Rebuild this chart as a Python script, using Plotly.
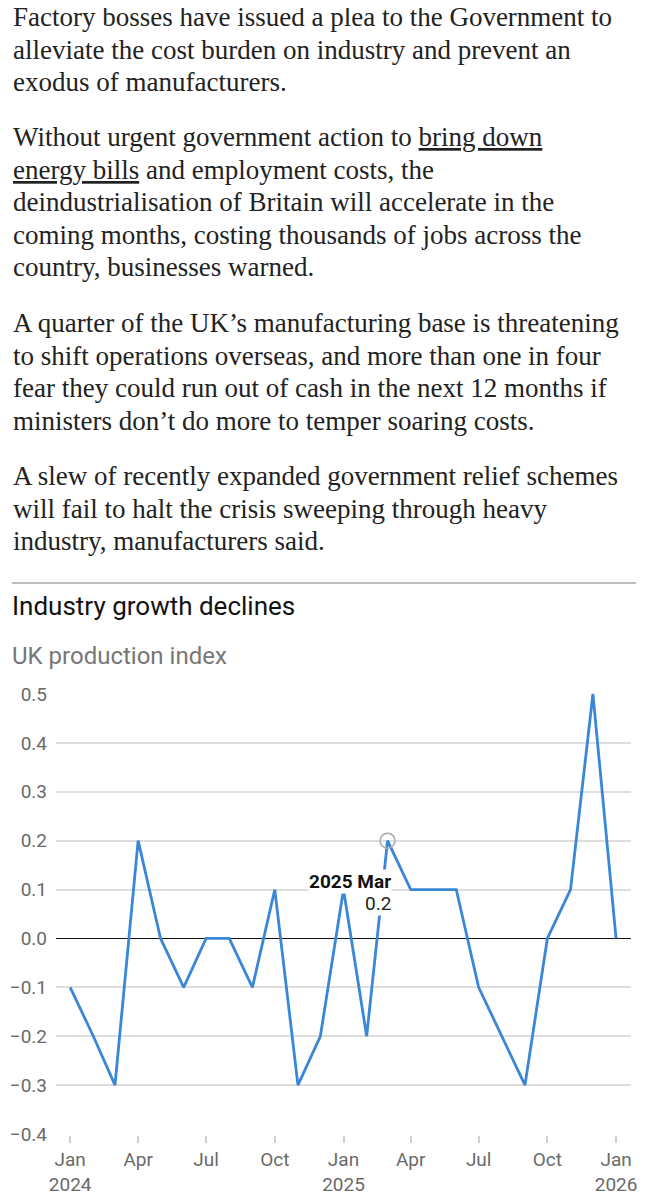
import plotly.graph_objects as go

# --- data ---
months = [
    "2024-01-01", "2024-02-01", "2024-03-01", "2024-04-01", "2024-05-01", "2024-06-01",
    "2024-07-01", "2024-08-01", "2024-09-01", "2024-10-01", "2024-11-01", "2024-12-01",
    "2025-01-01", "2025-02-01", "2025-03-01", "2025-04-01", "2025-05-01", "2025-06-01",
    "2025-07-01", "2025-08-01", "2025-09-01", "2025-10-01", "2025-11-01", "2025-12-01",
    "2026-01-01",
]
production_index = [
    -0.1, -0.2, -0.3, 0.2, 0.0, -0.1, 0.0, 0.0, -0.1, 0.1, -0.3, -0.2,
    0.1, -0.2, 0.2, 0.1, 0.1, 0.1, -0.1, -0.2, -0.3, 0.0, 0.1, 0.5,
    0.0,
]
tick_dates = [
    "2024-01-01", "2024-04-01", "2024-07-01", "2024-10-01", "2025-01-01",
    "2025-04-01", "2025-07-01", "2025-10-01", "2026-01-01",
]
tick_labels = ["Jan<br>2024", "Apr", "Jul", "Oct", "Jan<br>2025", "Apr", "Jul", "Oct", "Jan<br>2026"]
y_ticks = [0.5, 0.4, 0.3, 0.2, 0.1, 0.0, -0.1, -0.2, -0.3, -0.4]
y_tick_labels = ["0.5", "0.4", "0.3", "0.2", "0.1", "0.0", "−0.1", "−0.2", "−0.3", "−0.4"]

highlight_date = "2025-03-01"
highlight_value = 0.2
highlight_label = "2025 Mar"

title_text = "Industry growth declines"
subtitle_text = "UK production index"

article_paragraphs = [
    [
        "Factory bosses have issued a plea to the Government to",
        "alleviate the cost burden on industry and prevent an",
        "exodus of manufacturers.",
    ],
    [
        "Without urgent government action to <u>bring down</u>",
        "<u>energy bills</u> and employment costs, the",
        "deindustrialisation of Britain will accelerate in the",
        "coming months, costing thousands of jobs across the",
        "country, businesses warned.",
    ],
    [
        "A quarter of the UK’s manufacturing base is threatening",
        "to shift operations overseas, and more than one in four",
        "fear they could run out of cash in the next 12 months if",
        "ministers don’t do more to temper soaring costs.",
    ],
    [
        "A slew of recently expanded government relief schemes",
        "will fail to halt the crisis sweeping through heavy",
        "industry, manufacturers said.",
    ],
]

# --- layout (page pixels; the page body adds an 8px margin) ---
OFF = 8
W, H = 649 - OFF, 1200 - OFF
PLOT_L, PLOT_R = 56 - OFF, 631 - OFF
PLOT_T, PLOT_B = 693 - OFF, 1135 - OFF
SANS = "Roboto, Liberation Sans, sans-serif"
SERIF = "Liberation Serif, DejaVu Serif, serif"


def px_x(px):
    return (px - OFF - PLOT_L) / (PLOT_R - PLOT_L)


def px_y(py):
    return 1 - (py - OFF - PLOT_T) / (PLOT_B - PLOT_T)


fig = go.Figure()

fig.add_trace(go.Scatter(
    x=months, y=production_index,
    mode="lines",
    line=dict(color="#3a86d7", width=2.8),
    hoverinfo="skip",
))

fig.add_trace(go.Scatter(
    x=[highlight_date], y=[highlight_value],
    mode="markers",
    marker=dict(size=15, color="rgba(255,255,255,0)", line=dict(color="#aaaaaa", width=1.5)),
    hoverinfo="skip",
))

annotations = []

# article text, one line at a time
para_starts = [17, 137, 323, 476]
for start, lines in zip(para_starts, article_paragraphs):
    for i, line in enumerate(lines):
        annotations.append(dict(
            xref="paper", yref="paper",
            x=px_x(11), y=px_y(start + i * 32.6),
            xanchor="left", yanchor="middle",
            text=line, showarrow=False,
            font=dict(family=SERIF, size=27, color="#222222"),
        ))

annotations.append(dict(
    xref="paper", yref="paper", x=px_x(10), y=px_y(606),
    xanchor="left", yanchor="middle", text=title_text, showarrow=False,
    font=dict(family=SANS, size=26, color="#121212"),
))
annotations.append(dict(
    xref="paper", yref="paper", x=px_x(10), y=px_y(656),
    xanchor="left", yanchor="middle", text=subtitle_text, showarrow=False,
    font=dict(family=SANS, size=24, color="#767676"),
))

# tooltip-like label for the highlighted point
annotations.append(dict(
    x=highlight_date, y=highlight_value,
    xanchor="right", yanchor="middle", xshift=4, yshift=-41,
    text=f"<b>{highlight_label}</b>", showarrow=False, bgcolor="white",
    borderpad=0,
    font=dict(family=SANS, size=19, color="#121212"),
))
annotations.append(dict(
    x=highlight_date, y=highlight_value,
    xanchor="right", yanchor="middle", xshift=4, yshift=-63,
    text=f"{highlight_value:.1f}", showarrow=False, bgcolor="white",
    borderpad=0,
    font=dict(family=SANS, size=19, color="#222222"),
))

fig.update_layout(
    width=W, height=H,
    margin=dict(l=PLOT_L, r=W - PLOT_R, t=PLOT_T, b=H - PLOT_B, autoexpand=False),
    paper_bgcolor="white", plot_bgcolor="white",
    showlegend=False,
    annotations=annotations,
    shapes=[
        dict(type="line", xref="paper", yref="paper",
             x0=px_x(12), x1=px_x(636), y0=px_y(583), y1=px_y(583),
             line=dict(color="#bdbdbd", width=2)),
        dict(type="line", xref="paper", yref="paper",
             x0=px_x(646), x1=px_x(646), y0=px_y(0), y1=px_y(1196),
             line=dict(color="#e3e3e3", width=1)),
    ],
    xaxis=dict(
        type="date", automargin=False,
        range=["2023-12-13", "2026-01-21"],
        tickvals=tick_dates, ticktext=tick_labels,
        ticks="outside", ticklen=7, tickcolor="#d0d0d0", tickwidth=1.5,
        showgrid=False, zeroline=False, showline=False,
        tickfont=dict(family=SANS, size=19, color="#6a6a6a"),
    ),
    yaxis=dict(
        automargin=False,
        range=[-0.402, 0.502],
        tickvals=y_ticks, ticktext=y_tick_labels,
        showgrid=True, gridcolor="#dedede", gridwidth=1.5,
        zeroline=True, zerolinecolor="#111111", zerolinewidth=1.2,
        showline=False, ticks="", ticklabelstandoff=8,
        tickfont=dict(family=SANS, size=19, color="#6a6a6a"),
    ),
)

fig.write_html("out.html")
